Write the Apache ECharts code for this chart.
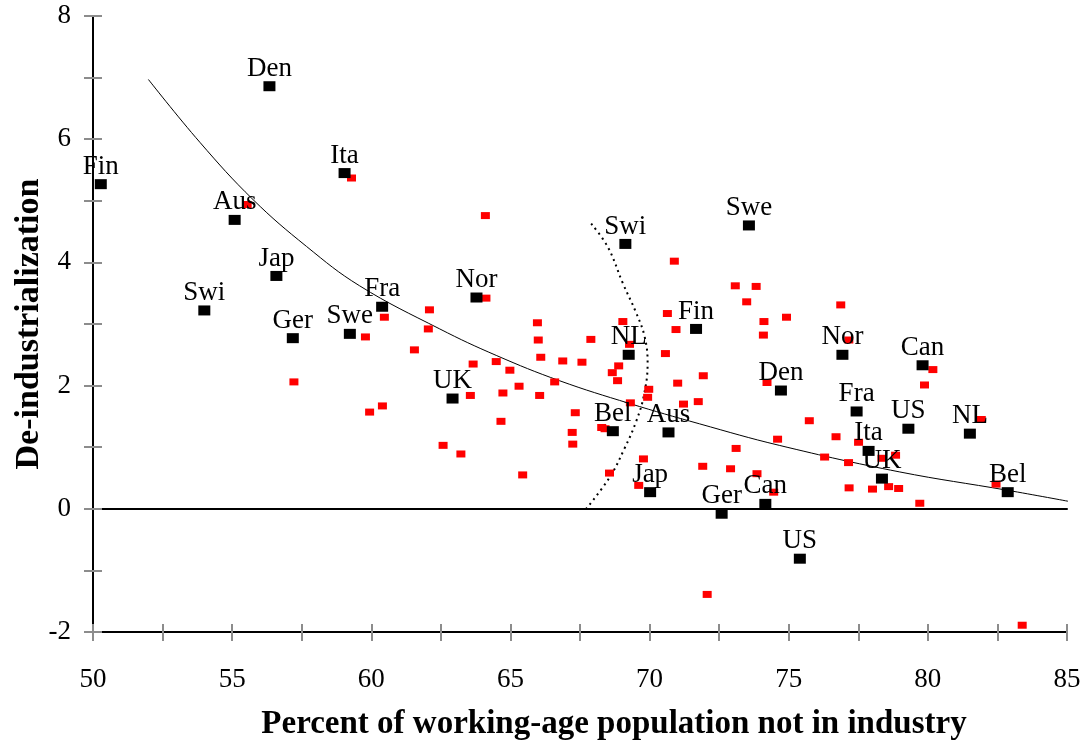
<!DOCTYPE html>
<html>
<head>
<meta charset="utf-8">
<title>De-industrialization</title>
<script src="https://cdn.jsdelivr.net/npm/echarts@6/dist/echarts.min.js"></script>
<style>
  html, body { margin: 0; padding: 0; background: #fff; }
  #main { width: 1082px; height: 740px; }
</style>
</head>
<body>
<div id="main"></div>
<script>
// labelled country points (black squares), two periods
var countryNames = ['Fin', 'Den', 'Ita', 'Aus', 'Jap', 'Swi', 'Ger', 'Swe', 'Fra', 'Nor', 'UK',
    'Swi', 'Swe', 'Fin', 'NL', 'Bel', 'Aus', 'Jap', 'Ger', 'Can', 'US',
    'Den', 'Nor', 'Fra', 'Ita', 'UK', 'US', 'Can', 'NL', 'Bel'];
var countryX = [50.28, 56.34, 59.04, 55.09, 56.59, 54.00, 57.18, 59.23, 60.39, 63.78, 62.92,
    69.13, 73.57, 71.67, 69.25, 68.68, 70.68, 70.02, 72.59, 74.16, 75.40,
    74.72, 76.93, 77.44, 77.87, 78.35, 79.30, 79.81, 81.51, 82.87];
var countryY = [5.27, 6.86, 5.45, 4.69, 3.78, 3.22, 2.77, 2.84, 3.28, 3.43, 1.79,
    4.30, 4.60, 2.92, 2.50, 1.26, 1.24, 0.27, -0.08, 0.08, -0.81,
    1.92, 2.50, 1.58, 0.94, 0.49, 1.30, 2.33, 1.22, 0.27];

// other observations (red squares)
var otherX = [55.54, 59.29, 57.22, 64.10, 64.12, 60.47, 59.79, 62.09, 62.05, 61.55,
    65.97, 66.00, 67.89, 69.04, 69.28, 63.66, 64.49, 64.98, 66.09, 66.88,
    67.57, 68.89, 68.66, 68.85, 66.59, 65.31, 63.56, 64.73, 66.05, 69.97,
    69.93, 69.31, 67.33, 60.40, 59.94, 64.66, 67.22, 67.24, 68.28, 68.40,
    62.58, 63.22, 65.44, 69.78, 68.56, 69.61, 70.89, 70.64, 70.95, 70.57,
    71.01, 71.22, 73.08, 73.83, 73.49, 76.87, 74.11, 74.92, 74.09, 77.16,
    71.93, 74.22, 71.75, 75.74, 76.70, 74.60, 77.51, 73.11, 71.91, 72.91,
    73.86, 76.29, 77.15, 74.46, 77.17, 78.01, 78.59, 78.35, 78.84, 78.95,
    80.18, 79.88, 81.92, 82.45, 79.71, 83.39, 72.07];
var otherY = [4.94, 5.37, 2.06, 4.76, 3.42, 3.11, 2.79, 3.23, 2.92, 2.58,
    3.02, 2.74, 2.75, 3.04, 2.67, 2.35, 2.39, 2.25, 2.46, 2.40,
    2.38, 2.32, 2.21, 2.08, 2.06, 1.99, 1.84, 1.88, 1.84, 1.94,
    1.81, 1.72, 1.56, 1.67, 1.57, 1.42, 1.24, 1.05, 1.32, 1.30,
    1.03, 0.89, 0.55, 0.81, 0.58, 0.38, 4.02, 3.17, 2.91, 2.52,
    2.04, 1.70, 3.62, 3.61, 3.36, 3.31, 3.04, 3.11, 2.82, 2.74,
    2.16, 2.05, 1.74, 1.43, 1.17, 1.13, 1.08, 0.98, 0.69, 0.65,
    0.57, 0.84, 0.75, 0.27, 0.34, 0.32, 0.36, 0.82, 0.87, 0.33,
    2.26, 2.01, 1.45, 0.40, 0.09, -1.89, -1.39];

// fitted curve
var fitX = [51.99, 53.84, 55.75, 57.67, 59.58, 62.46, 64.49, 66.76, 69.28, 71.79, 74.66, 78.97, 82.87, 85.07];
var fitY = [6.97, 5.95, 5.02, 4.26, 3.62, 2.92, 2.49, 2.08, 1.71, 1.38, 1.03, 0.60, 0.30, 0.12];

// dotted boundary, top to bottom
var edgeX = [67.90, 68.50, 69.04, 69.50, 69.82, 69.93, 69.80, 69.52, 69.10, 68.55, 67.63];
var edgeY = [4.63, 4.25, 3.66, 3.20, 2.80, 2.36, 1.85, 1.42, 0.98, 0.50, -0.05];

var xLabelValues = [50, 55, 60, 65, 70, 75, 80, 85];
var yLabelValues = [-2, 0, 2, 4, 6, 8];

var font = 'Liberation Serif';

function pairs(xs, ys) {
    var out = [];
    for (var i = 0; i < xs.length; i++) out.push([xs[i], ys[i]]);
    return out;
}

var countryData = [];
for (var i = 0; i < countryNames.length; i++) {
    countryData.push({ name: countryNames[i], value: [countryX[i], countryY[i]] });
}

var myChart = echarts.init(document.getElementById('main'));
var tickGray = '#8c8c8c';

var option = {
    animation: false,
    backgroundColor: '#fff',
    grid: { left: 93, right: 15, top: 16, bottom: 108, containLabel: false, outerBoundsMode: 'none' },
    xAxis: [
        {   // main bottom axis: line, outer ticks, labels, name
            type: 'value', min: 50, max: 85, interval: 2.5, position: 'bottom',
            axisLine: { onZero: false, lineStyle: { color: '#000', width: 2 } },
            axisTick: { length: 9, lineStyle: { color: tickGray, width: 2 } },
            axisLabel: {
                margin: 34, fontFamily: font, fontSize: 27, color: '#000',
                formatter: function (v) { return xLabelValues.indexOf(v) >= 0 ? String(v) : ''; }
            },
            splitLine: { show: false },
            name: 'Percent of working-age population not in industry',
            nameLocation: 'middle', nameGap: 76,
            nameTextStyle: { fontFamily: font, fontSize: 33, fontWeight: 'bold', color: '#000', padding: [0, 0, 0, 68] }
        },
        {   // inner half of the ticks
            type: 'value', min: 50, max: 85, interval: 2.5, position: 'bottom',
            axisLine: { show: false, onZero: false },
            axisTick: { inside: true, length: 8, lineStyle: { color: tickGray, width: 2 } },
            axisLabel: { show: false },
            splitLine: { show: false }
        },
        {   // zero line
            type: 'value', min: 50, max: 85, position: 'bottom',
            axisLine: { onZero: true, lineStyle: { color: '#000', width: 2 } },
            axisTick: { show: false },
            axisLabel: { show: false },
            splitLine: { show: false }
        }
    ],
    yAxis: [
        {
            type: 'value', min: -2, max: 8, interval: 1, position: 'left',
            axisLine: { show: true, onZero: false, lineStyle: { color: '#000', width: 2 } },
            axisTick: { show: true, length: 9, lineStyle: { color: tickGray, width: 2 } },
            axisLabel: {
                margin: 22, fontFamily: font, fontSize: 27, color: '#000',
                formatter: function (v) { return yLabelValues.indexOf(v) >= 0 ? String(v) : ''; }
            },
            splitLine: { show: false },
            name: 'De-industrialization',
            nameLocation: 'middle', nameGap: 47, nameMoveOverlap: false,
            nameTextStyle: { fontFamily: font, fontSize: 34, fontWeight: 'bold', color: '#000' }
        },
        {
            type: 'value', min: -2, max: 8, interval: 1, position: 'left',
            axisLine: { show: false, onZero: false },
            axisTick: { show: true, inside: true, length: 9, lineStyle: { color: tickGray, width: 2 } },
            axisLabel: { show: false },
            splitLine: { show: false }
        }
    ],
    series: [
        {
            type: 'line', name: 'fit', smooth: 0.4, showSymbol: false, symbol: 'none',
            lineStyle: { color: '#000', width: 1 },
            data: pairs(fitX, fitY), z: 1
        },
        {
            type: 'line', name: 'edge', smooth: 0.4, showSymbol: false, symbol: 'none',
            lineStyle: { color: '#000', width: 2, type: [2, 4] },
            data: pairs(edgeX, edgeY), z: 1
        },
        {
            type: 'scatter', name: 'other', symbol: 'rect', symbolSize: [9, 7],
            itemStyle: { color: '#ff0000', opacity: 1 },
            data: pairs(otherX, otherY), z: 2
        },
        {
            type: 'scatter', name: 'countries', symbol: 'rect', symbolSize: [12, 10],
            itemStyle: { color: '#000', opacity: 1 },
            label: {
                show: true, position: 'top', distance: -1,
                formatter: '{b}', fontFamily: font, fontSize: 27, color: '#000'
            },
            data: countryData, z: 3
        }
    ]
};

myChart.setOption(option);
window.onresize = function () { myChart.resize(); };
</script>
</body>
</html>
